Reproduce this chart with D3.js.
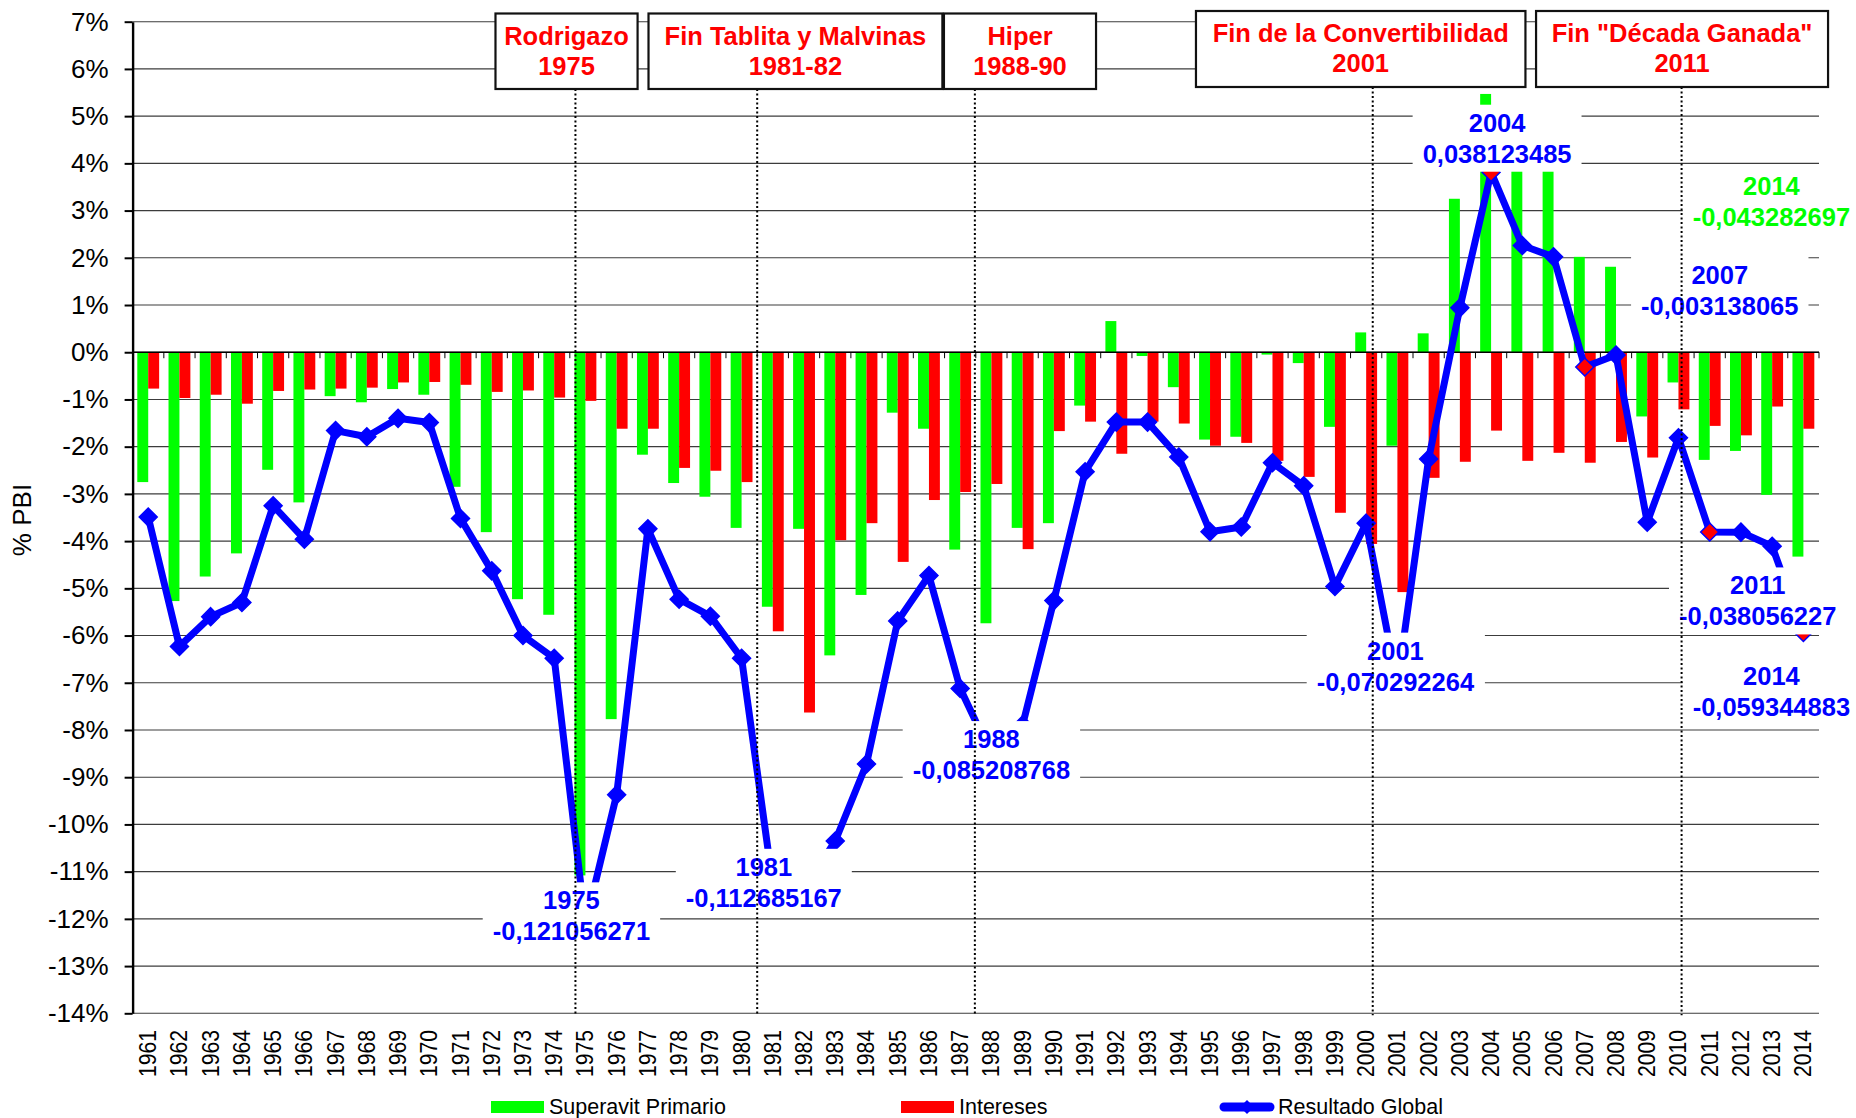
<!DOCTYPE html>
<html>
<head>
<meta charset="utf-8">
<script src="https://cdn.jsdelivr.net/npm/d3@7"></script>
<style>
body { margin: 0; background: #fff; }
svg { display: block; font-family: "Liberation Sans", Arial, sans-serif; }
</style>
</head>
<body>
<div id="chart"></div>
<script>
// datos (fracción del PBI)
var years = d3.range(1961, 2015)

var superavitPrimario = [
  -0.0275, -0.0527, -0.0475, -0.0426, -0.0249, -0.0318, -0.0093, -0.0106, -0.0078, -0.0090,
  -0.0285, -0.0381, -0.0523, -0.0556, -0.1108, -0.0777, -0.0217, -0.0277, -0.0306, -0.0372,
  -0.0539, -0.0374, -0.0642, -0.0514, -0.0128, -0.0162, -0.0418, -0.0574, -0.0372, -0.0362,
  -0.0113, 0.0066, -0.0008, -0.0074, -0.0185, -0.0179, -0.0005, -0.0023, -0.0158, 0.0042,
  -0.0198, 0.0040, 0.0325, 0.0547, 0.0456, 0.0415, 0.0202, 0.0181, -0.0136, -0.0064,
  -0.0228, -0.0209, -0.0302, -0.043282697
]

var intereses = [
  -0.0077, -0.0097, -0.0090, -0.0109, -0.0082, -0.0079, -0.0077, -0.0075, -0.0064, -0.0063,
  -0.0069, -0.0084, -0.0081, -0.0096, -0.0103, -0.0162, -0.0162, -0.0245, -0.0251, -0.0275,
  -0.0591, -0.0763, -0.0398, -0.0362, -0.0444, -0.0313, -0.0296, -0.0279, -0.0417, -0.0167,
  -0.0147, -0.0215, -0.0147, -0.0151, -0.0198, -0.0192, -0.0230, -0.0264, -0.0340, -0.0406,
  -0.0508, -0.0266, -0.0232, -0.0166, -0.0230, -0.0213, -0.0234, -0.0190, -0.0223, -0.0121,
  -0.0156, -0.0176, -0.0115, -0.0162
]

var resultadoGlobal = [
  -0.0349, -0.0623, -0.0560, -0.0530, -0.0325, -0.0396, -0.0166, -0.0179, -0.0140, -0.0149,
  -0.0352, -0.0463, -0.0600, -0.0648, -0.121056271, -0.0937, -0.0374, -0.0523, -0.0559, -0.0648,
  -0.112685167, -0.1137, -0.1035, -0.0872, -0.0569, -0.0473, -0.0712, -0.085208768, -0.0789, -0.0526,
  -0.0253, -0.0148, -0.0148, -0.0222, -0.0380, -0.0370, -0.0234, -0.0283, -0.0496, -0.0362,
  -0.070292264, -0.0226, 0.0094, 0.038123485, 0.0226, 0.0202, -0.003138065, -0.0006, -0.0360, -0.0181,
  -0.038056227, -0.0381, -0.0411, -0.059344883
]

var yTicks = d3.range(-14, 8).map(function(d) { return d / 100 })

var series = ['Superavit Primario', 'Intereses', 'Resultado Global']
var colors = ['#00ff00', '#ff0000', '#0000ff']

var destacados = [2004, 2007, 2011, 2014]

// etiquetas de datos: serie, año y corrimiento en px
var etiquetas = [
  {serie: 2, year: 1975, dx: -14, dy: -8},
  {serie: 2, year: 1981, dx: -9, dy: -2},
  {serie: 2, year: 1988, dx: 0, dy: 0},
  {serie: 2, year: 2001, dx: -2, dy: -18},
  {serie: 2, year: 2004, dx: 6, dy: -34},
  {serie: 2, year: 2007, dx: 135, dy: -77},
  {serie: 2, year: 2011, dx: 48, dy: 69},
  {serie: 2, year: 2014, dx: -32, dy: 59},
  {serie: 0, year: 2014, dx: -32, dy: -355}
]

var eventos = [
  {titulo: 'Rodrigazo', periodo: '1975'},
  {titulo: 'Fin Tablita y Malvinas', periodo: '1981-82'},
  {titulo: 'Hiper', periodo: '1988-90'},
  {titulo: 'Fin de la Convertibilidad', periodo: '2001'},
  {titulo: 'Fin "Década Ganada"', periodo: '2011'}
]
// cajas (en años fraccionarios) y línea punteada de cada evento
var eventosLayout = [
  {x0: 1972.62, x1: 1977.17, linea: 1975.18, top: 13.5, bottom: 89},
  {x0: 1977.52, x1: 1986.93, linea: 1981.0, top: 13.5, bottom: 89},
  {x0: 1986.98, x1: 1991.85, linea: 1987.97, top: 13.5, bottom: 89},
  {x0: 1995.05, x1: 2005.6, linea: 2000.71, top: 11, bottom: 87},
  {x0: 2005.94, x1: 2015.29, linea: 2010.6, top: 11, bottom: 87}
]

var W = 1856, H = 1118
var plotLeft = 132.6, plotRight = 1819, plotTop = 21.7, plotBottom = 1013.3

var svg = d3.select('#chart').append('svg').attr('width', W).attr('height', H)

var x = d3.scaleBand().domain(years).range([plotLeft, plotRight])
var bw = x.bandwidth()
var y = d3.scaleLinear().domain([-0.14, 0.07]).range([plotBottom, plotTop])
var xc = function(yr) { return x(yr) + bw / 2 }
var xf = function(v) { return plotLeft + (v - 1961) * bw }
var pct = function(d) { return Math.round(d * 100) + '%' }

// grilla
svg.append('g').selectAll('line').data(yTicks).join('line')
  .attr('x1', plotLeft).attr('x2', plotRight)
  .attr('y1', d => y(d)).attr('y2', d => y(d))
  .attr('stroke', '#3c3c3c').attr('stroke-width', 1.1)

// barras
var bars = svg.append('g')
bars.selectAll('.prim').data(years).join('rect').attr('class', 'prim')
  .attr('x', d => x(d) + bw * 0.15).attr('width', bw * 0.35)
  .attr('y', (d, i) => y(Math.max(0, superavitPrimario[i])))
  .attr('height', (d, i) => Math.abs(y(superavitPrimario[i]) - y(0)))
  .attr('fill', colors[0])
bars.selectAll('.int').data(years).join('rect').attr('class', 'int')
  .attr('x', d => x(d) + bw * 0.5).attr('width', bw * 0.35)
  .attr('y', (d, i) => y(Math.max(0, intereses[i])))
  .attr('height', (d, i) => Math.abs(y(intereses[i]) - y(0)))
  .attr('fill', colors[1])

// eje de categorías en 0%
var zero = svg.append('g')
zero.append('line').attr('x1', plotLeft).attr('x2', plotRight).attr('y1', y(0)).attr('y2', y(0))
  .attr('stroke', '#000').attr('stroke-width', 1.5)
zero.selectAll('.tk').data(years.concat([2015])).join('line').attr('class', 'tk')
  .attr('x1', d => xf(d)).attr('x2', d => xf(d))
  .attr('y1', y(0)).attr('y2', y(0) + 6)
  .attr('stroke', '#000').attr('stroke-width', 1)

// resultado global
var line = d3.line().x((d, i) => xc(years[i])).y(d => y(d))
svg.append('path').datum(resultadoGlobal)
  .attr('d', line).attr('fill', 'none')
  .attr('stroke', colors[2]).attr('stroke-width', 7).attr('stroke-linejoin', 'round')

var diamond = 'M0,-9L9,0L0,9L-9,0Z'
svg.append('g').selectAll('path').data(years).join('path')
  .attr('d', diamond)
  .attr('transform', (d, i) => 'translate(' + xc(d) + ',' + y(resultadoGlobal[i]) + ')')
  .attr('fill', d => destacados.indexOf(d) >= 0 ? colors[1] : colors[2])
  .attr('stroke', colors[2]).attr('stroke-width', 1.5)

// etiquetas de datos
var valores = [superavitPrimario, intereses, resultadoGlobal]
var fmtVal = function(v) { return v.toFixed(9).replace('.', ',') }
etiquetas.forEach(function(e) {
  var i = years.indexOf(e.year)
  var v = valores[e.serie][i]
  var g = svg.append('g')
    .attr('transform', 'translate(' + (xc(e.year) + e.dx) + ',' + (y(v) + e.dy) + ')')
  var rect = g.append('rect').attr('fill', '#fff')
  var t = g.append('text').attr('text-anchor', 'middle')
    .attr('font-size', 25.5).attr('font-weight', 'bold').attr('fill', colors[e.serie])
  t.append('tspan').attr('x', 0).attr('y', -6.5).text(e.year)
  t.append('tspan').attr('x', 0).attr('y', 24.5).text(fmtVal(v))
  var b = t.node().getBBox()
  rect.attr('x', b.x - 10).attr('y', b.y - 4).attr('width', b.width + 20).attr('height', b.height + 8)
})

// eje Y
var yAxis = svg.append('g').attr('transform', 'translate(' + plotLeft + ',0)')
  .call(d3.axisLeft(y).tickValues(yTicks).tickFormat(pct).tickSize(8).tickSizeOuter(0).tickPadding(16))
yAxis.select('.domain').attr('stroke', '#000').attr('stroke-width', 2.4)
yAxis.selectAll('.tick line').attr('stroke', '#000').attr('stroke-width', 2)
yAxis.selectAll('text').attr('font-size', 26).attr('fill', '#000')
  .attr('font-family', '"Liberation Sans", Arial, sans-serif')

svg.append('text').attr('transform', 'translate(22,520) rotate(-90)')
  .attr('text-anchor', 'middle').attr('dominant-baseline', 'central')
  .attr('font-size', 26).text('% PBI')

// años
svg.append('g').selectAll('text').data(years).join('text')
  .attr('transform', d => 'translate(' + xc(d) + ',1030) rotate(-90)')
  .attr('text-anchor', 'end').attr('dominant-baseline', 'central')
  .attr('font-size', 23.5).attr('textLength', 47).attr('lengthAdjust', 'spacingAndGlyphs')
  .text(d => d)

// eventos: líneas punteadas y cajas
eventosLayout.forEach(function(l, i) {
  svg.append('line')
    .attr('x1', xf(l.linea)).attr('x2', xf(l.linea))
    .attr('y1', l.bottom).attr('y2', plotBottom + 2)
    .attr('stroke', '#000').attr('stroke-width', 2).attr('stroke-dasharray', '2,2.5')
  var g = svg.append('g')
  g.append('rect').attr('x', xf(l.x0)).attr('y', l.top)
    .attr('width', xf(l.x1) - xf(l.x0)).attr('height', l.bottom - l.top)
    .attr('fill', '#fff').attr('stroke', '#111').attr('stroke-width', 2.2)
  var cx = (xf(l.x0) + xf(l.x1)) / 2
  var t = g.append('text').attr('text-anchor', 'middle')
    .attr('font-size', 25.5).attr('font-weight', 'bold').attr('fill', colors[1])
  t.append('tspan').attr('x', cx).attr('y', l.top + 31).text(eventos[i].titulo)
  t.append('tspan').attr('x', cx).attr('y', l.top + 61).text(eventos[i].periodo)
})

// leyenda
var legendX = [491, 901, 1219]
var legend = svg.append('g').selectAll('g').data(series).join('g')
  .attr('transform', (d, i) => 'translate(' + legendX[i] + ',1107)')
legend.each(function(d, i) {
  var g = d3.select(this)
  if (i < 2) {
    g.append('rect').attr('x', 0).attr('y', -6).attr('width', 53).attr('height', 12).attr('fill', colors[i])
  } else {
    g.append('line').attr('x1', 5).attr('x2', 51).attr('y1', 0).attr('y2', 0)
      .attr('stroke', colors[2]).attr('stroke-width', 9).attr('stroke-linecap', 'round')
    g.append('path').attr('d', 'M28,-7L35,0L28,7L21,0Z').attr('fill', colors[2])
  }
  g.append('text').attr('x', i < 2 ? 58 : 59).attr('y', 6.5)
    .attr('font-size', 21.5).text(d)
})
</script>
</body>
</html>
